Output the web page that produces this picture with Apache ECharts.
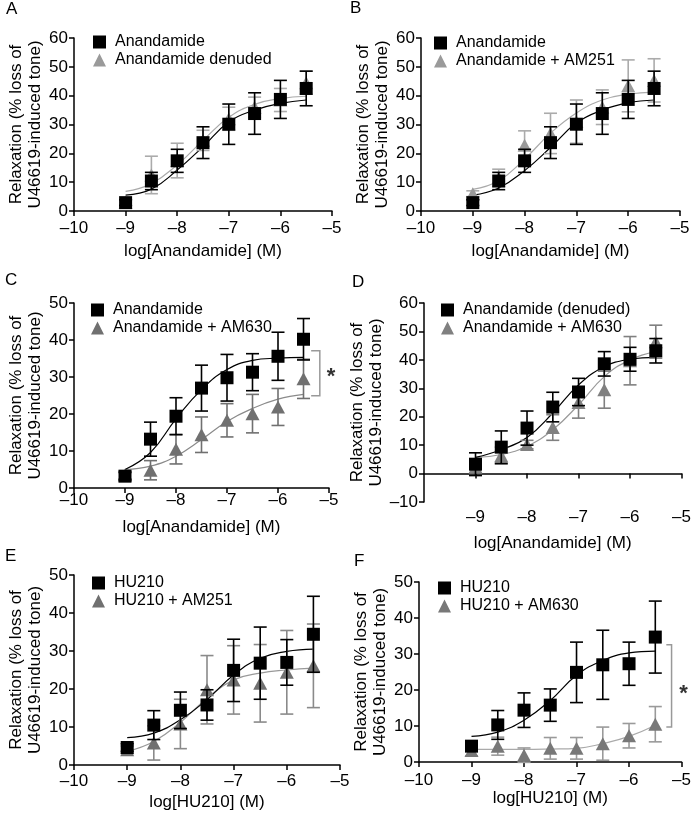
<!DOCTYPE html>
<html><head><meta charset="utf-8">
<script src="https://cdn.jsdelivr.net/npm/echarts@6/dist/echarts.min.js"></script>
<style>html,body{margin:0;padding:0;background:#fff}#c{width:694px;height:815px}</style>
</head><body><div id="c"></div>
<script>
// ---- data ----
const doses = [-9, -8.5, -8, -7.5, -7, -6.5, -6, -5.5];
const xTicks = [-10, -9, -8, -7, -6, -5];

// A: Anandamide vs Anandamide denuded
const aCtrl = [2.9, 10.4, 17.4, 23.7, 30.1, 33.8, 38.7, 42.5];
const aCtrlErr = [1, 3, 4, 5.5, 7, 7.2, 6.6, 6];
const aCtrlFit = [5.5, 7.6, 14.2, 22.3, 30.9, 35, 37.3, 38.5];
const aTest = [3, 12.5, 17.5, 24.5, 32, 36, 38.5, 44.5];
const aTestErr = [1, 6.5, 6, 3.5, 4, 3.5, 4, 4];
const aTestFit = [6.8, 9.5, 16, 24.5, 32.5, 37, 39, 39.8];

// B: Anandamide vs Anandamide + AM251
const bCtrl = [2.9, 10.4, 17.4, 23.7, 30.1, 33.8, 38.7, 42.5];
const bCtrlErr = [1, 3, 4, 5.5, 7, 7.2, 6.6, 6];
const bCtrlFit = [5.5, 8, 14, 22, 30.5, 35, 37.5, 38.5];
const bTest = [6, 11.5, 22.8, 26.9, 31, 36, 43.4, 45.3];
const bTestErr = [1, 3, 5, 7, 7.5, 6, 9, 7.5];
const bTestFit = [7.5, 10.5, 18, 27, 34, 38.5, 40.5, 41.2];

// C: Anandamide vs Anandamide + AM630
const cCtrl = [3.2, 13.2, 19.4, 27, 29.8, 31.3, 35.6, 40.2];
const cCtrlErr = [1, 4.6, 5, 6.2, 6.3, 5, 6.5, 5.6];
const cCtrlFit = [5, 9.6, 18.7, 26.6, 32, 34.5, 35.1, 35.3];
const cTest = [3.5, 4.8, 10.5, 14.4, 18.3, 20.1, 21.9, 29.5];
const cTestErr = [1, 2.6, 4, 4.8, 4.5, 5.2, 5, 5.3];
const cTestFit = [5, 5.9, 8.6, 13.1, 18, 21.5, 24, 25.3];

// D: Anandamide (denuded) vs Anandamide + AM630
const dCtrl = [3.3, 9.3, 16, 23.4, 28.7, 38.6, 40.2, 43.2];
const dCtrlErr = [4, 5.7, 6, 5.2, 4.8, 4.3, 4.2, 4.3];
const dCtrlFit = [5.7, 8.4, 12.7, 21.3, 31.2, 37.6, 40.2, 40.9];
const dTest = [2.3, 6.3, 10.2, 16.2, 25, 29.5, 39.7, 46.4];
const dTestErr = [2, 3, 1.5, 4.5, 5.5, 6.5, 8.5, 5.8];
const dTestFit = [5.7, 6.7, 9.6, 15.4, 24.2, 34.1, 40, 42.9];

// E: HU210 vs HU210 + AM251
const eCtrl = [4.6, 10.5, 14.4, 15.8, 24.9, 26.8, 27, 34.4];
const eCtrlErr = [1, 3.8, 4.8, 4, 8.2, 9.5, 6, 10];
const eCtrlFit = [7.2, 8.4, 11.9, 17.2, 23.7, 28.1, 29.9, 30.5];
const eTest = [4, 5.8, 10.8, 19.8, 22.4, 21.5, 24.4, 26.1];
const eTestErr = [1, 4.5, 6.5, 9, 9, 10.2, 11, 11];
const eTestFit = [3.6, 6.2, 11.2, 17.6, 22.4, 24.2, 25, 25.5];

// F: HU210 vs HU210 + AM630
const fCtrl = [4.4, 10.3, 14.4, 15.8, 24.9, 27, 27.3, 34.7];
const fCtrlErr = [1, 4, 4.8, 4.5, 8.4, 9.6, 6, 10];
const fCtrlFit = [7.1, 8.3, 11.6, 17.1, 24.1, 28.2, 30.3, 30.8];
const fTest = [3.2, 4.4, 1.9, 3.8, 3.8, 5.1, 7.3, 10.5];
const fTestErr = [1.5, 2.5, 2, 3, 3, 4.6, 3.4, 4.9];
const fTestFit = [3.5, 3.5, 3.5, 3.6, 3.8, 5.1, 7.1, 10.2];

// significance brackets: [xLeft, xRight, yTop, yBottom], star [x, y]
const bracketC = [-5.35, -5.18, 37.1, 24.9];
const starC = [-4.96, 30];
const bracketF = [-5.29, -5.19, 32.6, 9.7];
const starF = [-4.96, 19];

// ---- layout / style ----
const FONT = "'Liberation Sans', Arial, Helvetica, sans-serif";
const FS = 17;
const panels = [
  {id:'A', grid:{left:74, top:38, width:258, height:173}, yMin:0, yMax:60, xName:'log[Anandamide] (M)',
   names:['Anandamide','Anandamide denuded'], ctrl:aCtrl, ctrlErr:aCtrlErr, ctrlFit:aCtrlFit, test:aTest, testErr:aTestErr, testFit:aTestFit,
   grey:'#9a9a9a', greyBar:'#ababab', greyLine:'#aaaaaa', legend:{left:93, top:34}, lm:9, ng:32, title:{left:6, top:1}},
  {id:'B', grid:{left:421, top:38, width:259, height:173}, yMin:0, yMax:60, xName:'log[Anandamide] (M)',
   names:['Anandamide','Anandamide + AM251'], ctrl:bCtrl, ctrlErr:bCtrlErr, ctrlFit:bCtrlFit, test:bTest, testErr:bTestErr, testFit:bTestFit,
   grey:'#9a9a9a', greyBar:'#ababab', greyLine:'#aaaaaa', legend:{left:434, top:35}, lm:9, ng:32, title:{left:350, top:0}},
  {id:'C', grid:{left:74, top:303, width:255, height:185}, yMin:0, yMax:50, xName:'log[Anandamide] (M)',
   names:['Anandamide','Anandamide + AM630'], ctrl:cCtrl, ctrlErr:cCtrlErr, ctrlFit:cCtrlFit, test:cTest, testErr:cTestErr, testFit:cTestFit,
   grey:'#707070', greyBar:'#707070', greyLine:'#8a8a8a', legend:{left:91, top:302}, lm:4, ng:31, title:{left:5, top:272},
   bracket:bracketC, star:starC},
  {id:'D', grid:{left:424, top:303, width:261, height:199}, yMin:-10, yMax:60, xName:'log[Anandamide] (M)',
   names:['Anandamide (denuded)','Anandamide + AM630'], ctrl:dCtrl, ctrlErr:dCtrlErr, ctrlFit:dCtrlFit, test:dTest, testErr:dTestErr, testFit:dTestFit,
   grey:'#808080', greyBar:'#808080', greyLine:'#999999', legend:{left:441, top:302}, lm:7, ng:33, title:{left:352, top:274}, hideMin:true},
  {id:'E', grid:{left:74, top:575, width:266, height:190}, yMin:0, yMax:50, xName:'log[HU210] (M)',
   names:['HU210','HU210 + AM251'], ctrl:eCtrl, ctrlErr:eCtrlErr, ctrlFit:eCtrlFit, test:eTest, testErr:eTestErr, testFit:eTestFit,
   grey:'#707070', greyBar:'#8a8a8a', greyLine:'#999999', legend:{left:92, top:575}, lm:8, ng:29, title:{left:5, top:548}},
  {id:'F', grid:{left:419, top:582, width:263, height:180}, yMin:0, yMax:50, xName:'log[HU210] (M)',
   names:['HU210','HU210 + AM630'], ctrl:fCtrl, ctrlErr:fCtrlErr, ctrlFit:fCtrlFit, test:fTest, testErr:fTestErr, testFit:fTestFit,
   grey:'#787878', greyBar:'#9a9a9a', greyLine:'#aaaaaa', legend:{left:438, top:580}, lm:10, ng:28, title:{left:354, top:553},
   bracket:bracketF, star:starF}
];

const fmtTick = v => (v < 0 ? '\u2013' + Math.abs(v) : String(v));

function errSeries(i, mean, err, color, z) {
  return {
    type:'custom', xAxisIndex:i, yAxisIndex:i, z:z, silent:true,
    data: doses.map((d, k) => [d, mean[k], err[k]]),
    encode:{x:0, y:1},
    renderItem:(params, api) => {
      const x = api.value(0), m = api.value(1), e = api.value(2);
      const t = api.coord([x, m + e]), b = api.coord([x, m - e]);
      const hw = 6.5, st = {stroke:color, lineWidth:1.6};
      return {type:'group', children:[
        {type:'line', shape:{x1:t[0], y1:t[1], x2:b[0], y2:b[1]}, style:st},
        {type:'line', shape:{x1:t[0]-hw, y1:t[1], x2:t[0]+hw, y2:t[1]}, style:st},
        {type:'line', shape:{x1:b[0]-hw, y1:b[1], x2:b[0]+hw, y2:b[1]}, style:st}
      ]};
    }
  };
}

const option = {
  animation:false,
  textStyle:{fontFamily:FONT},
  title:[], grid:[], xAxis:[], yAxis:[], legend:[], series:[]
};

panels.forEach((p, i) => {
  option.title.push({text:p.id, left:p.title.left, top:p.title.top, padding:0,
    textStyle:{fontFamily:FONT, fontSize:FS, fontWeight:'normal', color:'#000'}});
  option.grid.push(Object.assign({containLabel:false}, p.grid));
  option.xAxis.push({
    type:'value', gridIndex:i, min:xTicks[0], max:xTicks[xTicks.length-1], interval:1,
    name:p.xName, nameLocation:'middle', nameGap:p.ng,
    nameTextStyle:{fontFamily:FONT, fontSize:FS, color:'#000'},
    axisLine:{show:true, onZero:true, lineStyle:{color:'#000', width:1.5}},
    axisTick:{show:true, length:5, lineStyle:{color:'#000', width:1.5}},
    axisLabel:{color:'#000', fontFamily:FONT, fontSize:FS, margin:p.lm, formatter:fmtTick,
      showMinLabel: !p.hideMin, showMaxLabel:true},
    splitLine:{show:false}
  });
  option.yAxis.push({
    type:'value', gridIndex:i, min:p.yMin, max:p.yMax, interval:10,
    name:'Relaxation (% loss of\nU46619-induced tone)', nameLocation:'middle', nameGap:28, nameRotate:90,
    nameTextStyle:{fontFamily:FONT, fontSize:FS, color:'#000', lineHeight:19},
    axisLine:{show:true, onZero:false, lineStyle:{color:'#000', width:1.5}},
    axisTick:{show:true, length:5, lineStyle:{color:'#000', width:1.5}},
    axisLabel:{color:'#000', fontFamily:FONT, fontSize:FS, margin:6, formatter:fmtTick,
      showMinLabel:true, showMaxLabel:true},
    splitLine:{show:false}
  });
  const nCtrl = p.names[0] + '|' + p.id, nTest = p.names[1] + '|' + p.id;
  option.legend.push({
    orient:'vertical', left:p.legend.left, top:p.legend.top, padding:0, itemGap:2,
    itemWidth:13, itemHeight:13, selectedMode:false,
    data:[nCtrl, nTest], formatter:n => n.split('|')[0],
    textStyle:{fontFamily:FONT, fontSize:16, color:'#000', padding:[0,0,0,4]}
  });
  // fitted curves
  option.series.push({type:'line', name:'fitT'+p.id, xAxisIndex:i, yAxisIndex:i, smooth:0.45, showSymbol:false, silent:true,
    data:doses.map((d,k)=>[d, p.testFit[k]]), lineStyle:{color:p.greyLine, width:1.2}, z:2});
  option.series.push({type:'line', name:'fitC'+p.id, xAxisIndex:i, yAxisIndex:i, smooth:0.45, showSymbol:false, silent:true,
    data:doses.map((d,k)=>[d, p.ctrlFit[k]]), lineStyle:{color:'#000', width:1.2}, z:2});
  // grey group
  option.series.push(errSeries(i, p.test, p.testErr, p.greyBar, 3));
  option.series.push({type:'scatter', name:nTest, xAxisIndex:i, yAxisIndex:i, symbol:'triangle', symbolSize:[14,13],
    data:doses.map((d,k)=>[d, p.test[k]]), itemStyle:{color:p.grey, opacity:1}, z:4, silent:true});
  // black group
  option.series.push(errSeries(i, p.ctrl, p.ctrlErr, '#000', 5));
  option.series.push({type:'scatter', name:nCtrl, xAxisIndex:i, yAxisIndex:i, symbol:'rect', symbolSize:13,
    data:doses.map((d,k)=>[d, p.ctrl[k]]), itemStyle:{color:'#000', opacity:1}, z:6, silent:true});
  if (p.bracket) {
    const br = p.bracket, st = p.star;
    option.series.push({
      type:'custom', xAxisIndex:i, yAxisIndex:i, clip:false, silent:true, z:7,
      data:[[br[0], br[1], br[2], br[3], st[0], st[1]]],
      renderItem:(params, api) => {
        const a = api.coord([api.value(0), api.value(2)]);
        const b = api.coord([api.value(1), api.value(2)]);
        const c = api.coord([api.value(1), api.value(3)]);
        const d = api.coord([api.value(0), api.value(3)]);
        const s = api.coord([api.value(4), api.value(5)]);
        return {type:'group', children:[
          {type:'polyline', shape:{points:[a, b, c, d]}, style:{stroke:'#999', lineWidth:1.5, fill:null}},
          {type:'text', x:s[0], y:s[1], style:{text:'*', fontFamily:FONT, fontSize:22, fontWeight:'bold',
            fill:'#333', align:'center', verticalAlign:'middle'}}
        ]};
      }
    });
  }
});

const chart = echarts.init(document.getElementById('c'), null, {renderer:'canvas'});
chart.setOption(option);
</script>
</body></html>
